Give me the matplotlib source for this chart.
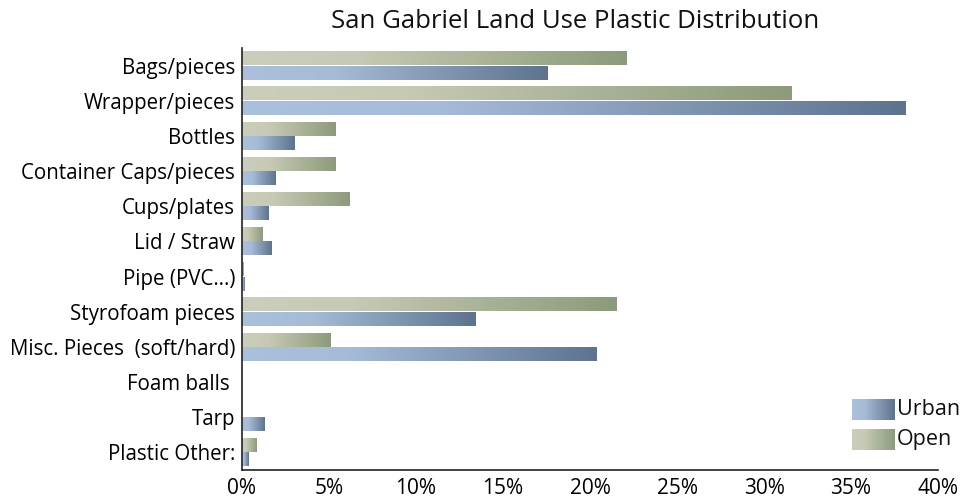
import numpy as np
import matplotlib
matplotlib.use("Agg")
import matplotlib.pyplot as plt
from matplotlib.colors import LinearSegmentedColormap

categories = ["Bags/pieces", "Wrapper/pieces", "Bottles", "Container Caps/pieces",
              "Cups/plates", "Lid / Straw", "Pipe (PVC\u2026)", "Styrofoam pieces",
              "Misc. Pieces  (soft/hard)", "Foam balls ", "Tarp", "Plastic Other:"]
open_vals = [22.1, 31.6, 5.4, 5.4, 6.15, 1.15, 0.1, 21.5, 5.1, 0.0, 0.0, 0.86]
urban_vals = [17.55, 38.15, 3.0, 1.9, 1.5, 1.7, 0.15, 13.4, 20.4, 0.0, 1.27, 0.4]
xticks = [0, 5, 10, 15, 20, 25, 30, 35, 40]
xticklabels = ["0%", "5%", "10%", "15%", "20%", "25%", "30%", "35%", "40%"]

plt.rcParams['font.family'] = ['Open Sans', 'DejaVu Sans']

urban_cmap = LinearSegmentedColormap.from_list(
    "urban", [(0, "#abc0da"), (0.3, "#a6bbd6"), (1.0, "#5e738e")])
open_cmap = LinearSegmentedColormap.from_list(
    "open", [(0, "#cbcebb"), (0.3, "#c6c9b3"), (1.0, "#8c9b7b")])

fig = plt.figure(figsize=(9.65, 5.0), dpi=100)
ax = fig.add_axes([242/965, 1 - 470/500, (938-242)/965, (470-48)/500])

grad = np.linspace(0, 1, 256).reshape(1, -1)
h = 0.39
for i, (o, u) in enumerate(zip(open_vals, urban_vals)):
    if o > 0:
        ax.imshow(grad, cmap=open_cmap, extent=[0, o, i - 0.01, i - 0.01 - h],
                  aspect='auto', interpolation='bilinear', zorder=2)
    if u > 0:
        ax.imshow(grad, cmap=urban_cmap, extent=[0, u, i + 0.01 + h, i + 0.01],
                  aspect='auto', interpolation='bilinear', zorder=2)

ax.set_xlim(0, 40)
ax.set_ylim(len(categories) - 0.5, -0.5)
ax.set_yticks(range(len(categories)))
ax.set_yticklabels(categories, fontsize=14.8)
ax.set_xticks(xticks)
ax.set_xticklabels(xticklabels, fontsize=15)
ax.tick_params(axis='y', length=0, pad=5)
ax.tick_params(axis='x', length=0, pad=6)
for s in ["top", "right"]:
    ax.spines[s].set_visible(False)
for s in ["left", "bottom"]:
    ax.spines[s].set_linewidth(1.2)
    ax.spines[s].set_color("#222222")

fig.text(575/965, 1 - 21/500, "San Gabriel Land Use Plastic Distribution",
         ha="center", va="center", fontsize=18.5, color="#111111")

# legend
for (y0, cmap, label) in [(399, urban_cmap, "Urban"), (429, open_cmap, "Open")]:
    lax = fig.add_axes([852/965, 1 - (y0 + 21)/500, 43/965, 21/500])
    lax.imshow(grad, cmap=cmap, aspect='auto', interpolation='bilinear')
    lax.axis('off')
    fig.text(897/965, 1 - (y0 + 10.5)/500, label, ha="left", va="center",
             fontsize=15.5, color="#111111")

fig.savefig("out.png", dpi=100)
